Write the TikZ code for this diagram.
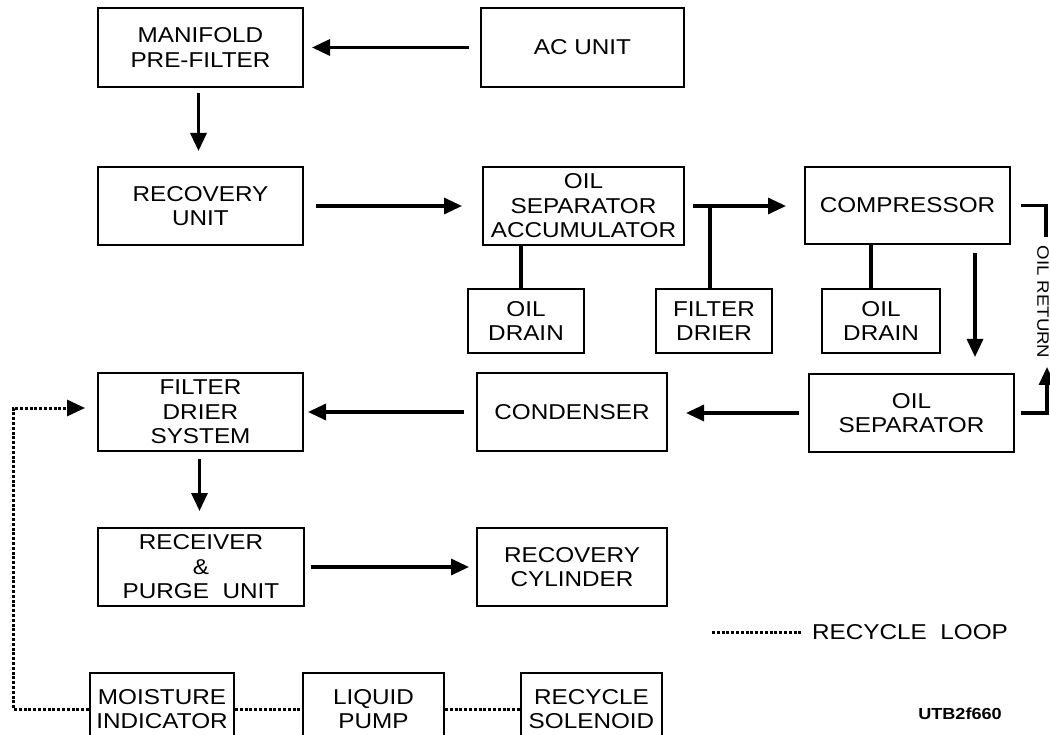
\documentclass[tikz,border=0pt]{standalone}
\usepackage{fontspec}
\setmainfont{Liberation Sans}[FakeStretch=1.13]
\usetikzlibrary{arrows.meta}
\begin{document}
\begin{tikzpicture}[x=1pt,y=-1pt,
  box/.style={draw, line width=2pt, align=center, inner sep=0pt, font=\fontsize{21.5}{24.5}\selectfont},
  tip/.style={-{Triangle[length=18pt,width=16pt]}},
  arr/.style={line width=3.2pt, tip},
  conn/.style={line width=3.2pt},
  dots/.style={line width=3pt, dash pattern=on 3pt off 1.8pt},
]
\useasboundingbox (0,0) rectangle (1050,735);
\clip (0,0) rectangle (1050,735);

% boxes
\node[box, minimum width=205pt, minimum height=79pt] (manifold) at (200.5,47.5) {MANIFOLD\\PRE-FILTER};
\node[box, minimum width=203pt, minimum height=79pt] (acunit) at (582.5,47.5) {AC UNIT};
\node[box, minimum width=205pt, minimum height=78pt] (recovery) at (200.5,206) {RECOVERY\\UNIT};
\node[box, minimum width=201pt, minimum height=78pt] (oilsepacc) at (583.5,206) {OIL\\SEPARATOR\\ACCUMULATOR};
\node[box, minimum width=205pt, minimum height=77pt] (compressor) at (907.5,205.5) {COMPRESSOR};
\node[box, minimum width=116pt, minimum height=64pt] (oildrain1) at (526,321) {OIL\\DRAIN};
\node[box, minimum width=116pt, minimum height=64pt] (filterdrier) at (714,321) {FILTER\\DRIER};
\node[box, minimum width=118pt, minimum height=64pt] (oildrain2) at (881,321) {OIL\\DRAIN};
\node[box, minimum width=205pt, minimum height=78pt] (oilsep) at (911.5,413) {OIL\\SEPARATOR};
\node[box, minimum width=190pt, minimum height=78pt] (condenser) at (572,412) {CONDENSER};
\node[box, minimum width=205pt, minimum height=78pt] (filtersys) at (200.5,412) {FILTER\\DRIER\\SYSTEM};
\node[box, minimum width=206pt, minimum height=78pt] (receiver) at (201,567) {RECEIVER\\\&\\PURGE\ \ UNIT};
\node[box, minimum width=190pt, minimum height=78pt] (cylinder) at (572,567) {RECOVERY\\CYLINDER};
\node[box, minimum width=144pt, minimum height=72pt] (moisture) at (162,709) {MOISTURE\\INDICATOR};
\node[box, minimum width=141pt, minimum height=72pt] (pump) at (373.5,709) {LIQUID\\PUMP};
\node[box, minimum width=141pt, minimum height=72pt] (solenoid) at (591.5,709) {RECYCLE\\SOLENOID};

% main flow arrows
\draw[arr, shorten <=11pt, shorten >=8pt] (acunit) -- (manifold);
\draw[arr, shorten <=5pt, shorten >=15pt] ([xshift=-2pt]manifold.south) -- ([xshift=-2pt]recovery.north);
\draw[arr, shorten <=12pt, shorten >=20pt] (recovery) -- (oilsepacc);
\draw[arr, shorten <=8pt, shorten >=18pt] (oilsepacc.east) -- (oilsepacc.east -| compressor.west);
\coordinate (j) at (710,206);
\draw[conn] (filterdrier.north -| j) -- (j);
\coordinate (d1) at ([xshift=-5pt]oildrain1.north);
\draw[conn] (d1) -- (d1 |- oilsepacc.south);
\coordinate (d2) at ([xshift=-10pt]oildrain2.north);
\draw[conn] (d2) -- (d2 |- compressor.south);
\draw[arr, shorten <=8pt, shorten >=16pt] ([xshift=67.5pt]compressor.south) -- ([xshift=63.5pt]oilsep.north);
\draw[arr, shorten <=9pt, shorten >=18pt] (oilsep.west) -- (oilsep.west -| condenser.east);
\draw[arr, shorten <=12pt, shorten >=4pt] (condenser) -- (filtersys);
\draw[arr, shorten <=7pt, shorten >=16pt] ([xshift=-1pt]filtersys.south) -- ([xshift=-1.5pt]receiver.north);
\draw[arr, shorten <=6pt, shorten >=7pt] (receiver) -- (cylinder);

% oil return
\coordinate (or1) at (1046,237);
\draw[conn, shorten <=10pt] (compressor.east) -| (or1);
\coordinate (or2) at (1047,367);
\draw[arr, shorten <=6pt] (oilsep.east) -| (or2);
\node[rotate=-90, inner sep=0pt, font=\fontsize{16.5}{18}\selectfont] (oilret) at (1043,302) {OIL RETURN};

% recycle loop
\coordinate (lp) at (13,408);
\draw[dots, tip, shorten >=12pt] (moisture.west) -| (lp) -- ([yshift=4pt]filtersys.west);
\draw[dots] (moisture) -- (pump);
\draw[dots] (pump) -- (solenoid);

% legend
\coordinate (lg1) at (712,632);
\coordinate (lg2) at (802,632);
\draw[dots] (lg1) -- (lg2);
\node[anchor=west, inner sep=0pt, font=\fontsize{21.5}{24}\selectfont] (legend) at (812,632) {RECYCLE\ \ LOOP};
\node[inner sep=0pt, font=\bfseries\fontsize{16}{19}\selectfont] (code) at (960,714) {UTB2f660};
\end{tikzpicture}
\end{document}
